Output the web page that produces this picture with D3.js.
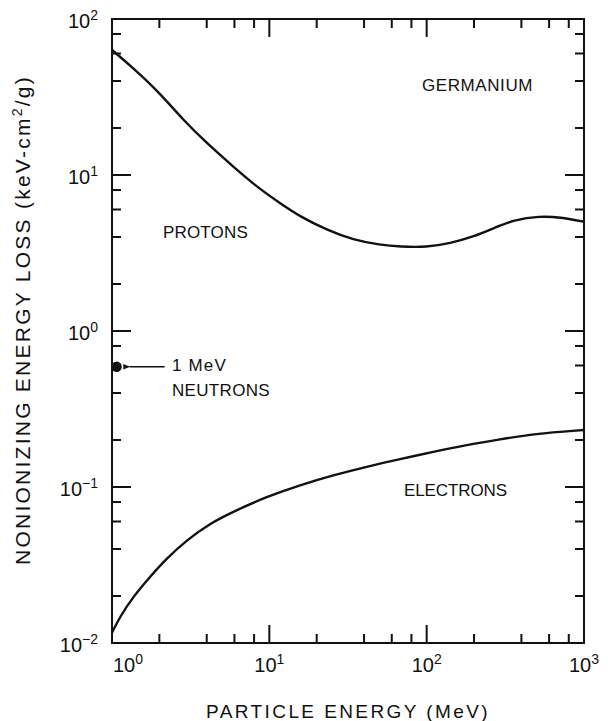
<!DOCTYPE html>
<html><head><meta charset="utf-8">
<script src="https://cdn.jsdelivr.net/npm/d3@7"></script>
<style>
html,body{margin:0;padding:0;background:#fff;}
text{font-family:"Liberation Sans",Arial,Helvetica,sans-serif;fill:#111;}
</style></head>
<body><svg id="c" width="608" height="721"></svg>
<script>
// Data
const protonE = [1, 1.37, 2.02, 2.84, 4.0, 5.9, 8.3, 11.7, 15.7, 23.2, 34.2, 50.6, 67.8, 100, 141, 198, 266, 356, 526, 705, 1000];
const protonLoss = [63.3, 48.3, 33.4, 22.5, 16.0, 11.3, 8.41, 6.59, 5.41, 4.44, 3.83, 3.56, 3.47, 3.44, 3.65, 4.02, 4.55, 5.15, 5.46, 5.36, 5.02];
const electronE = [1, 1.124, 1.366, 1.744, 2.227, 2.985, 4.2, 5.9, 9.62, 15.7, 25.5, 41.6, 67.8, 110, 180, 293, 477, 1000];
const electronLoss = [0.01164, 0.01475, 0.01983, 0.0266, 0.0349, 0.0457, 0.0585, 0.0695, 0.0867, 0.103, 0.119, 0.135, 0.151, 0.168, 0.186, 0.202, 0.219, 0.232];
const neutronE = [1.07];
const neutronLoss = [0.59];
const xMajor = [1, 10, 100, 1000];
const xMajorExp = ["0", "1", "2", "3"];
const yMajor = [0.01, 0.1, 1, 10, 100];
const yMajorExp = ["\u22122", "\u22121", "0", "1", "2"];
const minorMult = [2, 4, 6, 8];

const svg = d3.select("#c");
const L = 112, R = 584, T = 19, B = 643;
const x = d3.scaleLog().domain([1, 1000]).range([L, R]);
const y = d3.scaleLog().domain([0.01, 100]).range([B, T]);

const xMinor = [], yMinor = [];
xMajor.slice(0, -1).forEach(d => minorMult.forEach(m => xMinor.push(d * m)));
yMajor.slice(0, -1).forEach(d => minorMult.forEach(m => yMinor.push(d * m)));

// ticks (inward, all four sides) built as one path from the scales
const tp = d3.path();
function xTickPath(vals, len) {
  vals.forEach(d => {
    tp.moveTo(x(d), B); tp.lineTo(x(d), B - len);
    tp.moveTo(x(d), T); tp.lineTo(x(d), T + len);
  });
}
function yTickPath(vals, len) {
  vals.forEach(d => {
    tp.moveTo(L, y(d)); tp.lineTo(L + len, y(d));
    tp.moveTo(R, y(d)); tp.lineTo(R - len, y(d));
  });
}
xTickPath(xMinor, 9); xTickPath(xMajor.slice(1, -1), 18);
yTickPath(yMinor, 9); yTickPath(yMajor.slice(1, -1), 19);
svg.append("path").attr("class", "ticks").attr("d", tp.toString())
  .attr("fill", "none").attr("stroke", "#111").attr("stroke-width", 2);

// frame
svg.append("rect").attr("x", L).attr("y", T).attr("width", R - L).attr("height", B - T)
  .attr("fill", "none").attr("stroke", "#111").attr("stroke-width", 2);

// tick labels
xMajor.forEach((d, i) => {
  const t = svg.append("text").attr("x", i === 0 ? x(d) + 1 : x(d)).attr("y", B + 29)
    .attr("text-anchor", i === 0 ? "start" : "middle").attr("font-size", 20);
  t.append("tspan").text("10");
  t.append("tspan").attr("dy", -8).attr("font-size", 14).text(xMajorExp[i]);
});
yMajor.forEach((d, i) => {
  const t = svg.append("text").attr("x", 98).attr("y", y(d) + 9).attr("text-anchor", "end").attr("font-size", 20);
  t.append("tspan").text("10");
  t.append("tspan").attr("dy", -8).attr("font-size", 14).text(yMajorExp[i]);
});

function fitSpacing(sel, target) {
  const n = sel.text().length;
  const len = sel.node().getComputedTextLength();
  sel.attr("letter-spacing", (target - len) / n);
}
// axis titles
const xt = svg.append("text").attr("x", (L + R) / 2).attr("y", 718).attr("text-anchor", "middle")
  .attr("font-size", 19).text("PARTICLE ENERGY (MeV)");
fitSpacing(xt, 284);
const yt = svg.append("text").attr("transform", `translate(30,320) rotate(-90)`)
  .attr("text-anchor", "middle").attr("font-size", 21);
yt.append("tspan").text("NONIONIZING ENERGY LOSS (keV-cm");
yt.append("tspan").attr("dy", -8).attr("font-size", 14).text("2");
yt.append("tspan").attr("dy", 8).text("/g)");
fitSpacing(yt, 490);

// curves
const lineGen = d3.line().x(d => x(d[0])).y(d => y(d[1])).curve(d3.curveBasis);
svg.append("path").datum(protonE.map((e, i) => [e, protonLoss[i]]))
  .attr("d", lineGen).attr("fill", "none").attr("stroke", "#111").attr("stroke-width", 2.4);
svg.append("path").datum(electronE.map((e, i) => [e, electronLoss[i]]))
  .attr("d", lineGen).attr("fill", "none").attr("stroke", "#111").attr("stroke-width", 2.4);

// neutron point
svg.selectAll("circle.n").data(neutronE).enter().append("circle")
  .attr("cx", (d) => x(d)).attr("cy", (d, i) => y(neutronLoss[i])).attr("r", 5.2).attr("fill", "#111");
svg.append("defs").append("marker").attr("id", "ah").attr("viewBox", "0 0 10 10")
  .attr("refX", 1).attr("refY", 5).attr("markerWidth", 9).attr("markerHeight", 7)
  .attr("markerUnits", "userSpaceOnUse").attr("orient", "auto")
  .append("path").attr("d", "M10,1 L0,5 L10,9 Z").attr("fill", "#111");
const nx = x(neutronE[0]), ny = y(neutronLoss[0]);
svg.append("line").attr("x1", nx + 48).attr("y1", ny).attr("x2", nx + 13).attr("y2", ny)
  .attr("stroke", "#111").attr("stroke-width", 1.4).attr("marker-end", "url(#ah)");

// annotations
const ann = [
  {t: "GERMANIUM", x: 422, y: 91, w: 111},
  {t: "PROTONS", x: 163, y: 238, w: 85},
  {t: "1 MeV", x: 172, y: 371, w: 55},
  {t: "NEUTRONS", x: 172, y: 396, w: 98},
  {t: "ELECTRONS", x: 404, y: 496, w: 103}
];
svg.selectAll("text.ann").data(ann).enter().append("text").attr("class", "ann")
  .attr("x", d => d.x).attr("y", d => d.y).attr("font-size", 17).text(d => d.t)
  .each(function(d) { fitSpacing(d3.select(this), d.w); });
</script></body></html>
